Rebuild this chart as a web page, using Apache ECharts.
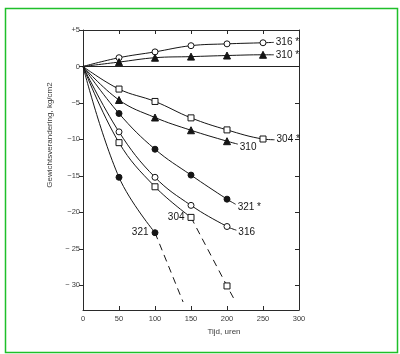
<!DOCTYPE html>
<html>
<head>
<meta charset="utf-8">
<script src="https://cdn.jsdelivr.net/npm/echarts@6/dist/echarts.min.js"></script>
<style>html,body{margin:0;padding:0;background:#fff;}#c{width:400px;height:354px;}</style>
</head>
<body>
<div id="c"></div>
<script>
// ---- data ----
const xValues = [0, 50, 100, 150, 200, 250];
const xTicks = [0, 50, 100, 150, 200, 250, 300];
const yTicks = [5, 0, -5, -10, -15, -20, -25, -30];
const yTickLabels = ['+5', '0', '−5', '−10', '−15', '−20', '− 25', '− 30'];

const y316star = [0, 1.2, 2.0, 2.85, 3.1, 3.25];
const end316star = [265, 3.3];
const y310star = [0, 0.6, 1.2, 1.35, 1.5, 1.6];
const end310star = [265, 1.6];
const y304star = [0, -3.1, -4.8, -7.05, -8.7, -9.95];
const end304star = [266, -10.05];
const y310 = [0, -4.6, -7.0, -8.75, -10.25];
const end310 = [215, -10.65];
const y321star = [0, -6.45, -11.35, -14.9, -18.2];
const end321star = [212, -18.9];
const y316 = [0, -8.97, -15.2, -19.05, -21.95];
const end316 = [213, -22.45];
const y304 = [0, -10.45, -16.5, -20.7];
const x304dash = [150, 200, 212];
const y304dash = [-20.7, -30.1, -32.3];
const y321 = [0, -15.2, -22.8];
const x321dash = [100, 139];
const y321dash = [-22.8, -32.3];

const INK = '#151515';
const labelFont = { color: INK, fontSize: 10, fontFamily: 'Liberation Sans, Arial, sans-serif' };

function markerStyle(filled) {
  return filled ? { color: INK, borderColor: INK, borderWidth: 1 }
                : { color: '#fff', borderColor: INK, borderWidth: 1 };
}

function series(ys, symbol, filled, end, endText, endOffset, extra) {
  const data = ys.map((y, i) => i === 0 ? { value: [xValues[i], y], symbol: 'none' } : { value: [xValues[i], y] });
  const s = {
    type: 'line', data: data, smooth: 0.4, symbol: symbol,
    symbolSize: symbol === 'triangle' ? 7 : 6,
    itemStyle: markerStyle(filled),
    lineStyle: { color: INK, width: 1 },
    emphasis: { disabled: true }, animation: false, z: 3
  };
  if (end) {
    data.push({ value: end, symbol: 'none' });
    s.endLabel = { show: true, formatter: endText, distance: 2, offset: endOffset || [0, 0], ...labelFont };
  }
  return Object.assign(s, extra || {});
}

const s304 = series(y304, 'rect', false, null);
s304.data[3].label = { show: true, position: 'left', distance: 3, formatter: '304', ...labelFont };
const s321 = series(y321, 'circle', true, null);
s321.data[2].label = { show: true, position: 'left', distance: 3, formatter: '321', ...labelFont };

const d304 = {
  type: 'line', animation: false, symbol: 'rect', symbolSize: 6,
  itemStyle: markerStyle(false), lineStyle: { color: INK, width: 1, type: [7, 5] },
  data: x304dash.map((x, i) => (i === 1 ? { value: [x, y304dash[i]] } : { value: [x, y304dash[i]], symbol: 'none' })),
  z: 2
};
const d321 = {
  type: 'line', animation: false, symbol: 'none',
  lineStyle: { color: INK, width: 1, type: [7, 5] },
  data: x321dash.map((x, i) => [x, y321dash[i]]),
  z: 2
};

const allSeries = [
  series(y316star, 'circle', false, end316star, '316 *', [0, 0], {
    markLine: { silent: true, symbol: 'none', label: { show: false }, animation: false,
      lineStyle: { color: '#222', width: 1, type: 'solid' }, data: [{ yAxis: 0 }] }
  }),
  series(y310star, 'triangle', true, end310star, '310 *'),
  series(y304star, 'rect', false, end304star, '304 *'),
  series(y310, 'triangle', true, end310, '310', [0, 3]),
  series(y321star, 'circle', true, end321star, '321 *', [0, 3]),
  series(y316, 'circle', false, end316, '316', [0, 2]),
  s304, d304, s321, d321
];

const axisFont = { color: '#3a3a3a', fontSize: 7.5, fontFamily: 'Liberation Sans, Arial, sans-serif' };
const axisLineStyle = { color: '#2a2a2a', width: 1 };

const chart = echarts.init(document.getElementById('c'), null, { renderer: 'canvas' });
chart.setOption({
  backgroundColor: '#fff',
  animation: false,
  grid: { left: 83, right: 101, top: 30, bottom: 44, containLabel: false },
  graphic: [{
    type: 'rect', left: 3, top: 6, silent: true,
    shape: { width: 392, height: 344 },
    style: { fill: 'none', stroke: '#1fbf2a', lineWidth: 1.5 }
  }],
  xAxis: [{
    type: 'value', min: 0, max: 300, interval: 50, position: 'bottom',
    name: 'Tijd, uren', nameLocation: 'middle', nameGap: 17,
    nameTextStyle: { ...axisFont, fontSize: 8, padding: [0, 0, 0, 66] },
    axisLine: { show: true, onZero: false, lineStyle: axisLineStyle },
    axisTick: { show: true, inside: true, length: 4, lineStyle: axisLineStyle },
    axisLabel: { ...axisFont, margin: 5, formatter: v => xTicks.includes(v) ? String(v) : '' },
    splitLine: { show: false }
  }, {
    type: 'value', min: 0, max: 300, interval: 50, position: 'top',
    axisLine: { show: true, onZero: false, lineStyle: axisLineStyle },
    axisTick: { show: true, inside: true, length: 4, lineStyle: axisLineStyle },
    axisLabel: { show: false }, splitLine: { show: false }
  }],
  yAxis: [{
    type: 'value', min: -33.4, max: 5, position: 'left',
    name: 'Gewichtsverandering, kg/cm2', nameLocation: 'middle', nameGap: 19,
    nameTextStyle: { ...axisFont, fontSize: 8, padding: [0, 0, 0, 70] },
    axisLine: { show: true, onZero: false, lineStyle: axisLineStyle },
    axisTick: { show: true, inside: false, length: 4, lineStyle: axisLineStyle, customValues: yTicks },
    axisLabel: { ...axisFont, margin: 3, customValues: yTicks,
      formatter: v => { const i = yTicks.indexOf(v); return i >= 0 ? yTickLabels[i] : ''; } },
    splitLine: { show: false }
  }, {
    type: 'value', min: -33.4, max: 5, position: 'right',
    axisLine: { show: true, onZero: false, lineStyle: axisLineStyle },
    axisTick: { show: true, inside: true, length: 4, lineStyle: axisLineStyle, customValues: yTicks },
    axisLabel: { show: false }, splitLine: { show: false }
  }],
  series: allSeries
});
</script>
</body>
</html>
